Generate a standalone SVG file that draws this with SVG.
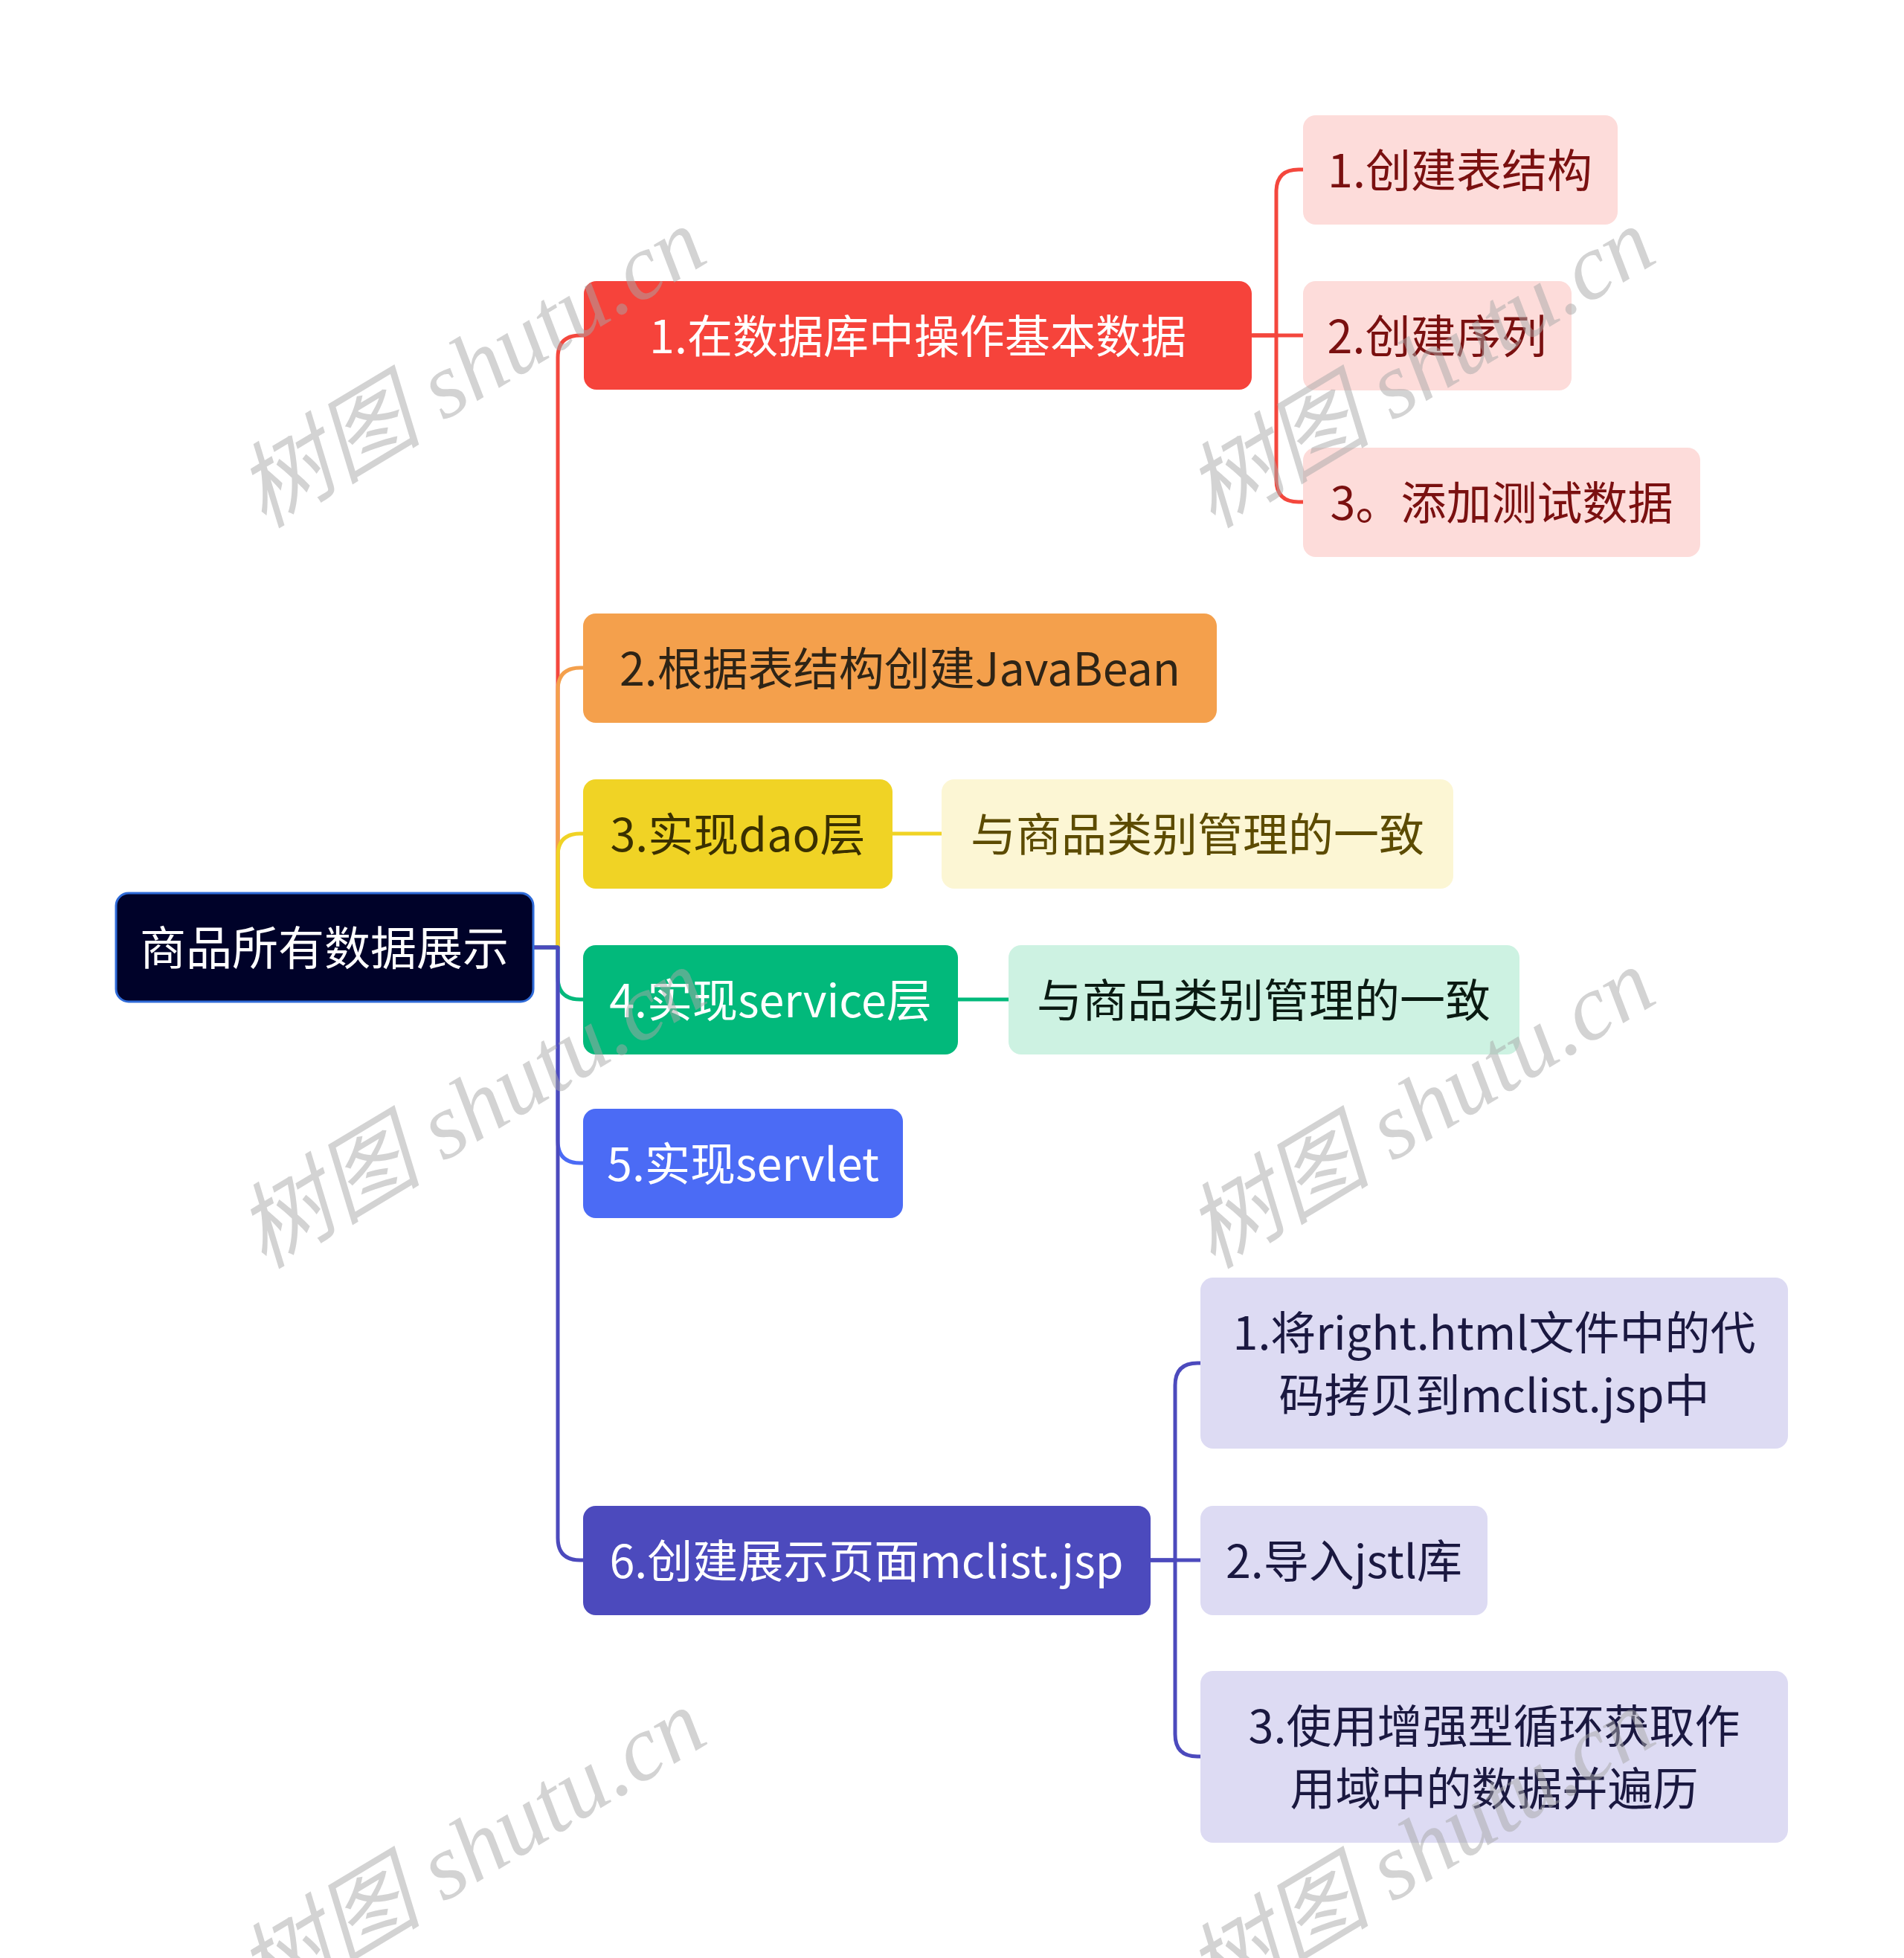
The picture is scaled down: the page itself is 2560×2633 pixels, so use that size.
<svg xmlns="http://www.w3.org/2000/svg" width="2560" height="2633" viewBox="0 0 2560 2633">
<style>
.t{font-family:"Noto Sans CJK SC","Microsoft YaHei","Noto Sans",sans-serif;font-size:61px;text-anchor:middle;dominant-baseline:central}
.c{fill:none;stroke-width:5;stroke-linecap:round;stroke-linejoin:round}
.wm{font-family:"Liberation Serif","Noto Sans CJK SC",serif;font-style:italic;font-size:125px;fill:#a8a8a8;fill-opacity:0.5;text-anchor:middle}
</style>
<rect width="2560" height="2633" fill="#ffffff"/>
<g id="connectors">
<path class="c" stroke="#f4473d" d="M717,1274 H750 V481 Q750,451 780,451 H786"/>
<path class="c" stroke="#f4a04c" d="M717,1274 H750 V928 Q750,898 780,898 H786"/>
<path class="c" stroke="#f0d325" d="M717,1274 H750 V1151 Q750,1121 780,1121 H786"/>
<path class="c" stroke="#02b97b" d="M717,1274 H750 V1314 Q750,1344 780,1344 H786"/>
<path class="c" stroke="#4b6bf5" d="M717,1274 H750 V1534 Q750,1564 780,1564 H786"/>
<path class="c" stroke="#4c4abd" d="M717,1274 H750 V2068 Q750,2098 780,2098 H786"/>
<path class="c" stroke="#f4473d" d="M1684,451 H1716 V258 Q1716,228 1746,228 H1754"/>
<path class="c" stroke="#f4473d" d="M1684,451 H1754"/>
<path class="c" stroke="#f4473d" d="M1684,451 H1716 V645 Q1716,675 1746,675 H1754"/>
<path class="c" stroke="#f0d325" d="M1200,1121 H1268"/>
<path class="c" stroke="#02b97b" d="M1288,1344 H1358"/>
<path class="c" stroke="#4c4abd" d="M1547,2098 H1580 V1863 Q1580,1833 1610,1833 H1616"/>
<path class="c" stroke="#4c4abd" d="M1547,2098 H1616"/>
<path class="c" stroke="#4c4abd" d="M1547,2098 H1580 V2332 Q1580,2362 1610,2362 H1616"/>
</g>
<g id="root">
<rect x="156" y="1201" width="561" height="146" rx="17" fill="#000229" stroke="#2f6bd8" stroke-width="3"/>
<text class="t" x="436" y="1271" fill="#ffffff" style="font-size:62px">商品所有数据展示</text>
</g>
<g id="n1">
<rect x="785" y="378" width="898" height="146" rx="17" fill="#f6433b"/>
<text class="t" x="1234" y="448" fill="#ffffff">1.在数据库中操作基本数据</text>
</g>
<g id="n1-1">
<rect x="1752" y="155" width="423" height="147" rx="17" fill="#fddcda"/>
<text class="t" x="1963" y="225" fill="#7a1010">1.创建表结构</text>
</g>
<g id="n1-2">
<rect x="1752" y="378" width="361" height="147" rx="17" fill="#fddcda"/>
<text class="t" x="1932" y="448" fill="#7a1010">2.创建序列</text>
</g>
<g id="n1-3">
<rect x="1752" y="602" width="534" height="147" rx="17" fill="#fddcda"/>
<text class="t" x="2019" y="672" fill="#7a1010">3。添加测试数据</text>
</g>
<g id="n2">
<rect x="784" y="825" width="852" height="147" rx="17" fill="#f4a04c"/>
<text class="t" x="1210" y="895" fill="#2e2416">2.根据表结构创建JavaBean</text>
</g>
<g id="n3">
<rect x="784" y="1048" width="416" height="147" rx="17" fill="#f0d325"/>
<text class="t" x="992" y="1118" fill="#3a3000">3.实现dao层</text>
</g>
<g id="n3-1">
<rect x="1266" y="1048" width="688" height="147" rx="17" fill="#fcf6d4"/>
<text class="t" x="1610" y="1118" fill="#5c4b00">与商品类别管理的一致</text>
</g>
<g id="n4">
<rect x="784" y="1271" width="504" height="147" rx="17" fill="#02b97b"/>
<text class="t" x="1036" y="1341" fill="#ffffff">4.实现service层</text>
</g>
<g id="n4-1">
<rect x="1356" y="1271" width="687" height="147" rx="17" fill="#cdf2e2"/>
<text class="t" x="1699" y="1341" fill="#0a1a12">与商品类别管理的一致</text>
</g>
<g id="n5">
<rect x="784" y="1491" width="430" height="147" rx="17" fill="#4b6bf5"/>
<text class="t" x="999" y="1561" fill="#ffffff">5.实现servlet</text>
</g>
<g id="n6">
<rect x="784" y="2025" width="763" height="147" rx="17" fill="#4c4abd"/>
<text class="t" x="1165" y="2095" fill="#ffffff">6.创建展示页面mclist.jsp</text>
</g>
<g id="n6-1">
<rect x="1614" y="1718" width="790" height="230" rx="17" fill="#dddbf3"/>
<text class="t" x="2009" y="1788" fill="#1a1840">1.将right.html文件中的代</text>
<text class="t" x="2009" y="1872" fill="#1a1840">码拷贝到mclist.jsp中</text>
</g>
<g id="n6-2">
<rect x="1614" y="2025" width="386" height="147" rx="17" fill="#dddbf3"/>
<text class="t" x="1807" y="2095" fill="#1a1840">2.导入jstl库</text>
</g>
<g id="n6-3">
<rect x="1614" y="2247" width="790" height="231" rx="17" fill="#dddbf3"/>
<text class="t" x="2009" y="2317" fill="#1a1840">3.使用增强型循环获取作</text>
<text class="t" x="2009" y="2401" fill="#1a1840">用域中的数据并遍历</text>
</g>
<g id="watermarks">
<text class="wm" transform="translate(640,505) rotate(-31)" y="30">树图 shutu.cn</text>
<text class="wm" transform="translate(1916,505) rotate(-31)" y="30">树图 shutu.cn</text>
<text class="wm" transform="translate(640,1501) rotate(-31)" y="30">树图 shutu.cn</text>
<text class="wm" transform="translate(1916,1501) rotate(-31)" y="30">树图 shutu.cn</text>
<text class="wm" transform="translate(640,2497) rotate(-31)" y="30">树图 shutu.cn</text>
<text class="wm" transform="translate(1916,2497) rotate(-31)" y="30">树图 shutu.cn</text>
</g>
</svg>
